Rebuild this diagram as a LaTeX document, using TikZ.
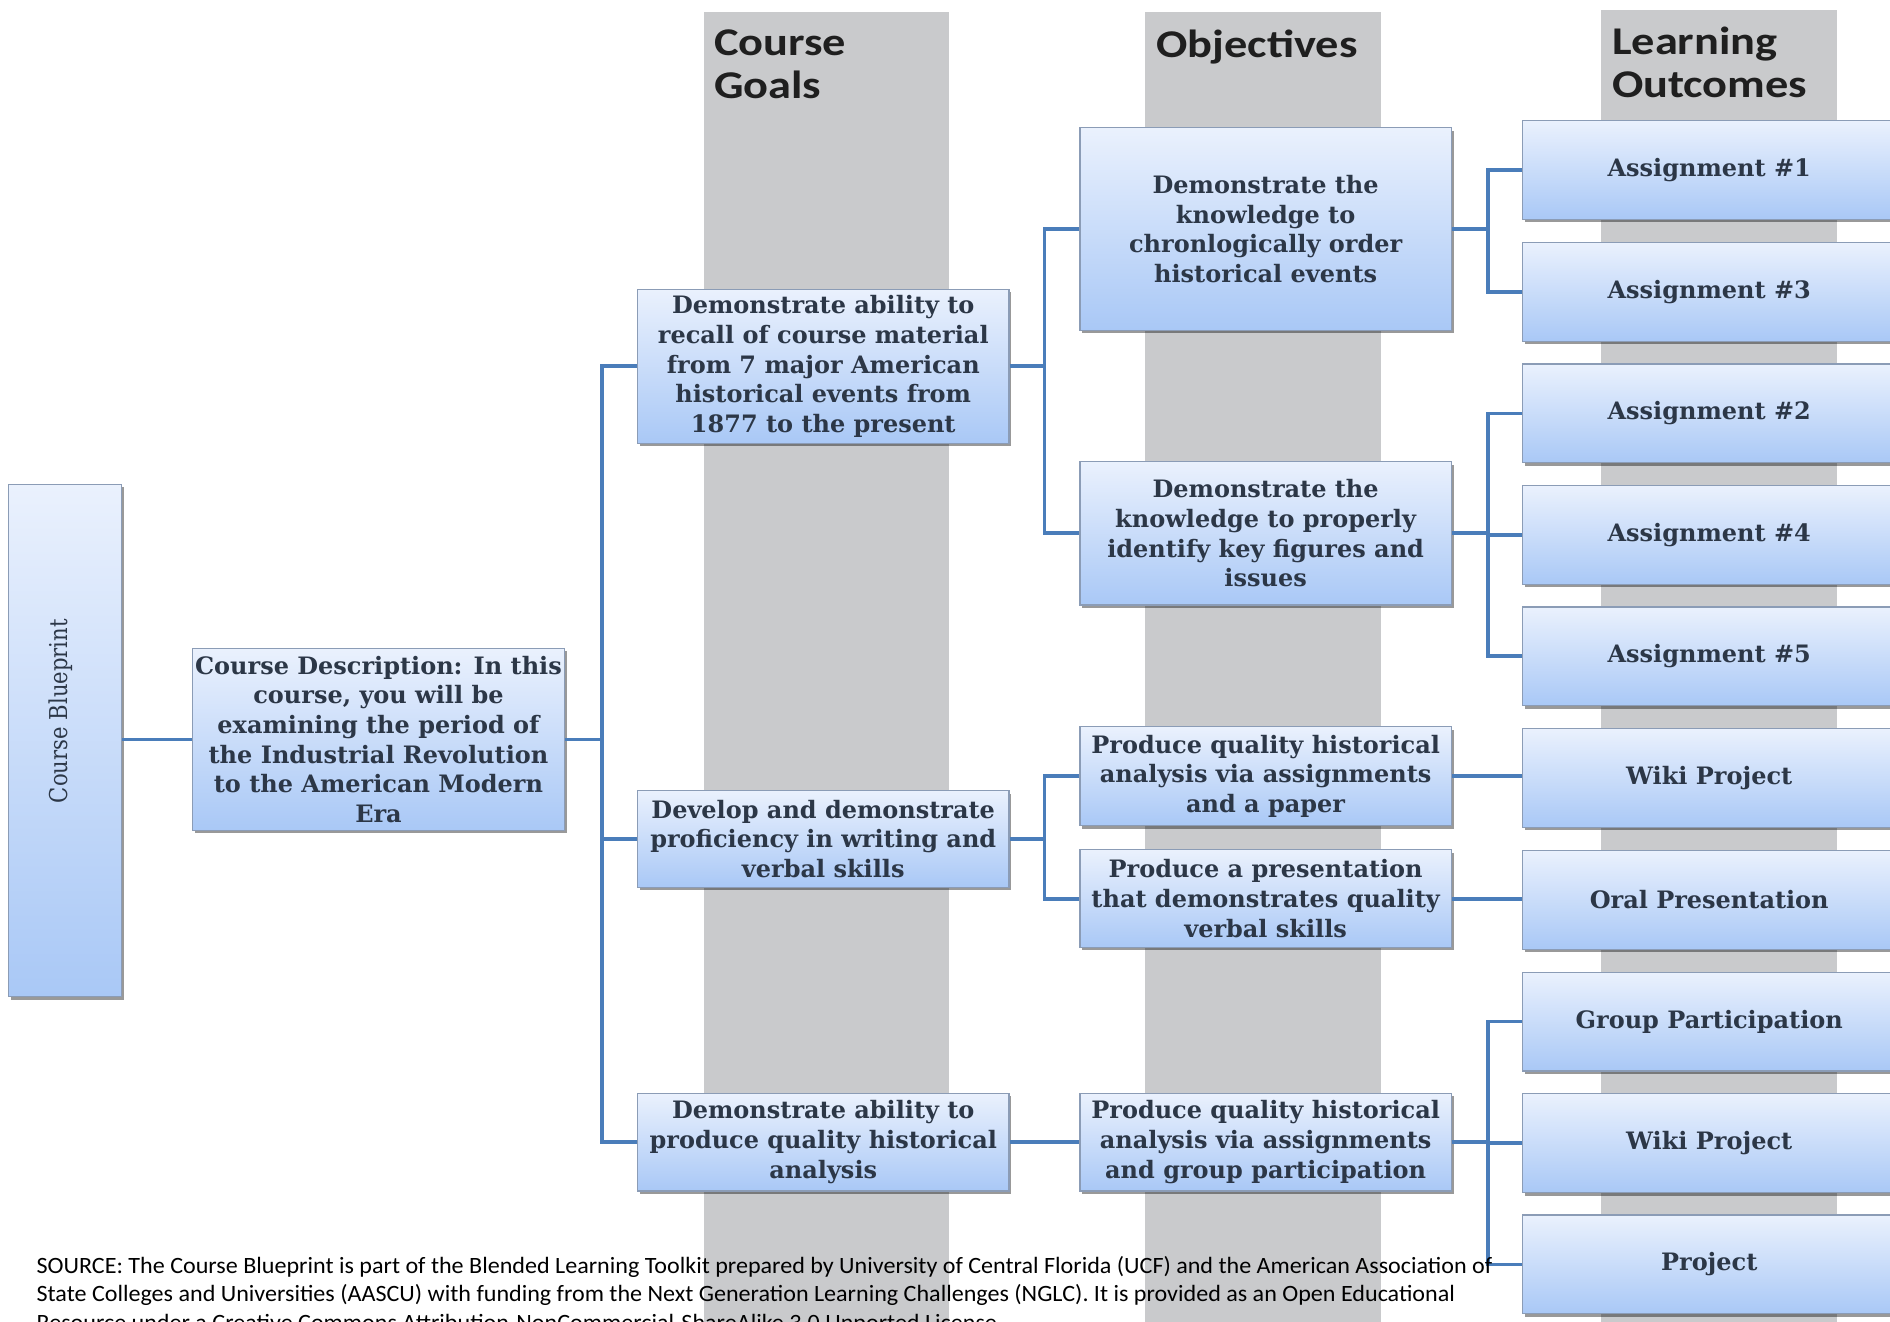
\documentclass[tikz,border=0pt]{standalone}
\usepackage{fontspec}
\usetikzlibrary{shadows}
\newfontfamily\boxfam{DejaVu Serif}
\newfontfamily\bpfam[FakeStretch=0.86]{DejaVu Serif}
\newfontfamily\hdrfam[FakeStretch=1.18]{Carlito}
\newfontfamily\srcfam[FakeStretch=1.03]{Carlito}
\definecolor{bandgray}{HTML}{C9CACC}
\definecolor{connblue}{HTML}{4A7DBA}
\definecolor{boxtop}{HTML}{EAF1FD}
\definecolor{boxbot}{HTML}{A9C8F6}
\definecolor{boxline}{HTML}{8B9CB6}
\definecolor{boxtext}{HTML}{2C3747}
\tikzset{
  band/.style={fill=bandgray, draw=none},
  header/.style={anchor=north west, inner sep=0pt, align=left, text=black!88,
    font=\fontsize{16.3pt}{18pt}\selectfont\hdrfam\bfseries},
  conn/.style={draw=connblue, line width=1.6pt},
  box/.style={draw=boxline, line width=0.5pt, top color=boxtop, bottom color=boxbot,
    drop shadow={shadow xshift=1pt, shadow yshift=-1.2pt, opacity=0.4, fill=black},
    align=center, text=boxtext, inner sep=1pt,
    font=\fontsize{9.95pt}{12.3pt}\selectfont\boxfam\bfseries},
  goalbox/.style={box, minimum width=154pt},
  lobox/.style={box, minimum width=155pt, minimum height=41pt},
  srctext/.style={anchor=base west, inner sep=0pt, align=left, text=black,
    font=\fontsize{9.7pt}{11.75pt}\selectfont\srcfam},
}
\begin{document}
\begin{tikzpicture}[x=0.5pt, y=-0.5pt]
\useasboundingbox (0,0) rectangle (1568,1096);
\clip (0,0) rectangle (1568,1096);
\fill[white] (0,0) rectangle (1568,1096);

% column bands
\fill[band] (584,10) rectangle (787,1110);
\fill[band] (950,10) rectangle (1146,1110);
\fill[band] (1328,8) rectangle (1524,1110);

% headers
\node[header] (hgoals) at (592,24) {Course\\Goals};
\node[header] (hobj) at (959,24) {Objectives};
\node[header] (hlo) at (1337,22) {Learning\\Outcomes};

% boxes
\node[box, minimum width=47pt, minimum height=212.5pt] (bp) at (54,614.5) {};
\node[rotate=90, inner sep=0pt, text=boxtext, font=\fontsize{10.2pt}{12pt}\selectfont\bpfam] (bpt) at (50,590) {Course Blueprint};

\node[box, minimum width=153pt, minimum height=75.5pt] (cd) at (314,613.5)
  {Course Description: In this\\course, you will be\\examining the period of\\the Industrial Revolution\\to the American Modern\\Era};

\node[goalbox, minimum height=64pt] (g1) at (683,304)
  {Demonstrate ability to\\recall of course material\\from 7 major American\\historical events from\\1877 to the present};
\node[goalbox, minimum height=40pt] (g2) at (683,696)
  {Develop and demonstrate\\proficiency in writing and\\verbal skills};
\node[goalbox, minimum height=40.5pt] (g3) at (683,947.5)
  {Demonstrate ability to\\produce quality historical\\analysis};

\node[goalbox, minimum height=84pt] (o1) at (1050,190)
  {Demonstrate the\\knowledge to\\chronlogically order\\historical events};
\node[goalbox, minimum height=59.5pt] (o2) at (1050,442.5)
  {Demonstrate the\\knowledge to properly\\identify key figures and\\issues};
\node[goalbox, minimum height=41pt] (o3) at (1050,644)
  {Produce quality historical\\analysis via assignments\\and a paper};
\node[goalbox, minimum height=40.5pt] (o4) at (1050,745.5)
  {Produce a presentation\\that demonstrates quality\\verbal skills};
\node[goalbox, minimum height=40.5pt] (o5) at (1050,947.5)
  {Produce quality historical\\analysis via assignments\\and group participation};

\node[lobox] (a1) at (1418,141) {Assignment \#1};
\node[lobox] (a3) at (1418,242) {Assignment \#3};
\node[lobox] (a2) at (1418,343) {Assignment \#2};
\node[lobox] (a4) at (1418,444) {Assignment \#4};
\node[lobox] (a5) at (1418,544.5) {Assignment \#5};
\node[lobox] (wk1) at (1418,645.5) {Wiki Project};
\node[lobox] (oral) at (1418,746.5) {Oral Presentation};
\node[lobox] (gp) at (1418,847.5) {Group Participation};
\node[lobox] (wk2) at (1418,948.5) {Wiki Project};
\node[lobox] (proj) at (1418,1049) {Project};

% connectors
\draw[conn] (bp.east |- cd.west) -- (cd.west);
\draw[conn] (cd.east) -- ++(31,0) coordinate (t1) |- (g1.west);
\draw[conn] (t1) |- (g2.west);
\draw[conn] (t1) |- (g3.west);
\draw[conn] (g1.east) -- ++(29,0) coordinate (t2) |- (o1.west);
\draw[conn] (t2) |- (o2.west);
\draw[conn] (g2.east) -- ++(29,0) coordinate (t3) |- (o3.west);
\draw[conn] (t3) |- (o4.west);
\draw[conn] (g3.east) -- (o5.west);
\draw[conn] (o1.east) -- ++(30,0) coordinate (t4) |- (a1.west);
\draw[conn] (t4) |- (a3.west);
\draw[conn] (o2.east) -- ++(30,0) coordinate (t5) |- (a2.west);
\draw[conn] (t5) |- (a4.west);
\draw[conn] (t5) |- (a5.west);
\draw[conn] (o3.east) -- (o3.east -| wk1.west);
\draw[conn] (o4.east) -- (o4.east -| oral.west);
\draw[conn] (o5.east) -- ++(30,0) coordinate (t6) |- (gp.west);
\draw[conn] (t6) |- (wk2.west);
\draw[conn] (t6) |- (proj.west);

% source note
\node[srctext] (src) at (30,1103.4)
  {SOURCE: The Course Blueprint is part of the Blended Learning Toolkit prepared by University of Central Florida (UCF) and the American Association of\\
   State Colleges and Universities (AASCU) with funding from the Next Generation Learning Challenges (NGLC). It is provided as an Open Educational\\
   Resource under a Creative Commons Attribution-NonCommercial-ShareAlike 3.0 Unported License.};
\end{tikzpicture}
\end{document}
